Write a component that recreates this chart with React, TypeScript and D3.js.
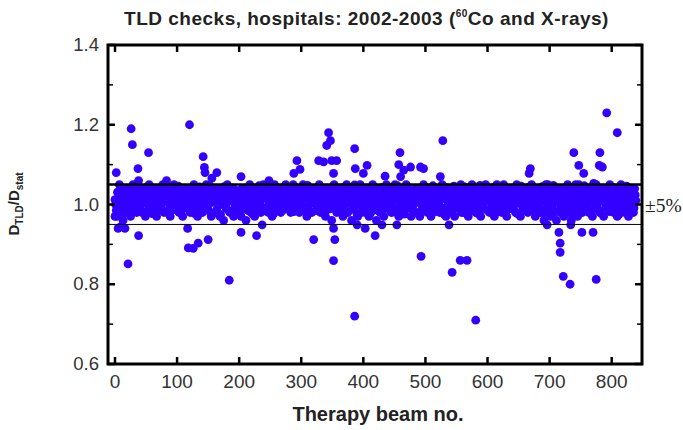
import React from "react";
import * as d3 from "d3";

const W = 683;
const H = 430;

// Dense band, odd beams: 1,3,5,...,839
const bandOdd: number[] = [
  1.00,0.97,1.03,1.05,0.99,1.02,0.96,1.01,1.04,0.98,1.00,1.03,0.97,1.02,1.05,0.99,1.01,0.98,1.04,1.00,
  1.02,0.98,1.04,1.01,0.97,1.03,1.00,1.05,0.99,1.02,0.98,1.04,1.01,0.97,1.03,1.00,1.02,0.99,1.05,0.98,
  1.01,1.04,0.98,1.02,0.97,1.03,1.00,1.05,0.99,1.01,1.04,0.98,1.02,1.00,0.97,1.03,1.01,1.04,0.99,1.02,
  0.98,1.03,1.01,1.05,0.99,1.02,0.97,1.04,1.00,1.02,0.98,1.03,1.01,1.05,0.99,1.00,1.04,0.97,1.02,1.01,
  1.03,0.98,1.01,1.04,0.97,1.02,1.00,0.96,1.03,0.99,1.05,1.01,0.98,1.02,1.04,0.97,1.00,1.03,0.99,1.02,
  1.01,0.97,1.04,0.99,1.02,0.96,1.03,1.00,1.05,0.98,1.02,1.01,0.97,1.04,0.99,1.03,1.00,0.98,1.02,1.05,
  0.99,1.02,1.04,0.98,1.01,1.03,0.97,1.00,1.05,1.02,0.99,1.04,1.01,0.98,1.03,1.00,1.02,1.05,0.99,1.01,
  1.03,0.98,1.02,1.05,1.00,1.04,0.99,1.02,0.98,1.03,1.01,1.05,0.99,1.02,0.97,1.04,1.00,1.03,0.98,1.01,
  1.02,1.04,0.99,1.01,1.05,0.98,1.03,1.00,1.02,0.97,1.04,1.01,0.99,1.03,0.96,1.02,1.05,1.00,0.98,1.03,
  1.01,0.99,1.04,0.97,1.02,1.00,1.05,0.98,1.03,1.01,0.96,1.04,0.99,1.02,1.00,0.97,1.03,1.05,0.98,1.01,
  1.02,0.98,1.04,1.00,0.97,1.03,1.01,1.05,0.99,1.02,0.96,1.04,1.00,0.98,1.03,1.01,0.97,1.02,1.05,0.99,
  1.03,1.00,0.98,1.04,1.01,1.05,0.99,1.02,0.97,1.03,1.00,1.04,0.98,1.02,1.05,0.99,1.01,1.03,0.97,1.02,
  1.00,1.04,0.98,1.02,1.01,0.97,1.03,0.99,1.05,1.02,1.00,0.98,1.04,1.01,0.97,1.03,1.00,1.02,0.99,1.04,
  1.01,0.98,1.03,1.05,0.99,1.02,0.97,1.04,1.00,1.02,0.98,1.03,1.01,0.97,1.04,1.00,1.02,0.99,1.05,1.01,
  0.98,1.03,1.00,1.04,0.97,1.02,1.01,1.05,0.99,1.03,0.98,1.01,1.04,1.00,0.97,1.02,1.03,0.99,1.05,1.01,
  1.02,0.98,1.04,1.00,1.03,0.97,1.01,1.05,0.99,1.02,1.04,0.98,1.01,1.03,1.00,0.97,1.04,1.02,0.99,1.01,
  1.03,1.00,0.98,1.05,1.01,1.02,0.97,1.04,0.99,1.03,1.00,1.02,0.98,1.04,1.01,1.05,0.99,1.02,0.97,1.03,
  1.00,1.04,0.98,1.02,1.01,0.96,1.03,0.99,1.05,1.02,0.97,1.00,1.04,0.98,1.02,0.96,1.03,1.01,0.98,1.04,
  1.01,0.97,1.03,1.00,1.05,0.98,1.02,0.96,1.04,0.99,1.01,1.03,0.97,1.05,1.00,1.02,0.98,1.04,0.99,1.01,
  1.03,0.98,1.01,1.04,0.97,1.02,1.00,1.05,0.99,1.03,0.98,1.01,1.04,0.97,1.02,1.00,1.03,0.99,1.05,1.01,
  1.02,0.98,1.04,1.00,0.97,1.03,1.01,1.05,0.99,1.02,0.98,1.04,1.01,0.97,1.03,1.00,1.02,0.98,1.04,1.01,
];

// Dense band, even beams: 0,2,4,...,838
const bandEven: number[] = [
  1.012,0.985,1.031,1.004,0.992,1.043,1.018,0.979,1.026,1.008,0.996,1.037,1.015,0.988,1.022,1.041,1.002,0.983,1.029,1.011,
  0.994,1.035,1.019,0.981,1.027,1.006,1.044,0.990,1.014,1.033,0.977,1.021,1.003,1.039,0.986,1.024,1.009,0.998,1.036,1.016,
  0.982,1.028,1.042,1.005,0.993,1.019,1.034,0.987,1.011,1.025,0.999,1.046,1.013,0.984,1.030,1.007,0.991,1.038,1.020,1.001,
  1.023,0.989,1.040,1.010,0.978,1.032,1.017,0.995,1.044,1.004,0.986,1.027,1.012,1.036,0.993,1.021,1.048,0.980,1.015,1.029,
  1.006,1.037,0.988,1.024,1.013,0.975,1.031,1.002,1.045,0.997,1.018,1.034,0.983,1.009,1.026,1.041,0.990,1.016,1.003,1.035,
  0.979,1.022,1.038,1.008,0.994,1.029,1.014,0.985,1.043,1.019,1.001,0.976,1.033,1.011,0.989,1.025,1.047,1.005,0.992,1.030,
  1.017,0.984,1.036,1.021,1.003,0.991,1.042,1.013,0.978,1.028,1.009,1.039,0.996,1.024,1.012,0.986,1.034,1.046,1.000,1.019,
  0.990,1.027,1.011,1.044,0.982,1.016,1.032,0.998,1.023,1.040,1.007,0.987,1.035,1.020,0.993,1.048,1.014,0.981,1.026,1.004,
  1.038,1.010,0.985,1.029,1.045,1.002,0.994,1.033,1.018,0.977,1.025,1.041,1.006,0.989,1.031,1.015,1.047,0.996,1.022,1.009,
  0.983,1.036,1.020,0.992,1.043,1.012,0.980,1.027,1.004,1.039,1.016,0.988,1.031,1.049,1.001,0.975,1.023,1.034,1.008,0.995,
  1.028,1.014,0.986,1.041,1.005,1.032,0.979,1.019,1.045,0.997,1.011,1.036,0.984,1.024,1.003,1.042,1.017,0.990,1.030,1.009,
  1.044,0.993,1.021,1.007,0.981,1.035,1.015,1.048,0.988,1.026,1.002,1.039,1.013,0.976,1.029,1.046,1.006,0.995,1.033,1.018,
  0.987,1.024,1.040,1.010,0.978,1.031,1.016,0.998,1.043,1.005,0.984,1.027,1.037,1.012,0.991,1.022,1.047,1.001,0.982,1.034,
  1.019,1.003,0.989,1.038,1.025,0.976,1.014,1.042,1.008,0.993,1.032,1.020,0.985,1.046,1.011,0.997,1.028,1.040,1.004,0.980,
  1.026,1.045,0.992,1.013,1.035,0.983,1.021,1.007,1.041,0.995,1.017,1.030,0.978,1.024,1.048,1.002,0.990,1.037,1.012,1.028,
  0.986,1.018,1.034,1.004,0.997,1.043,1.011,0.981,1.029,1.039,1.006,0.993,1.022,1.047,1.015,0.984,1.033,1.009,1.025,1.000,
  1.041,0.989,1.023,1.013,0.977,1.036,1.018,1.046,0.996,1.008,1.031,0.985,1.027,1.043,1.002,1.016,0.991,1.038,1.020,0.982,
  1.012,1.034,0.994,1.026,1.045,0.979,1.009,1.021,1.040,0.987,1.015,1.032,0.999,1.048,1.006,0.983,1.024,1.037,1.003,0.992,
  1.029,1.008,0.981,1.042,1.016,0.995,1.035,1.011,0.978,1.027,1.044,1.001,0.988,1.023,1.039,1.014,0.986,1.031,1.047,1.005,
  0.997,1.021,1.038,0.984,1.012,1.030,1.045,0.990,1.017,1.004,1.036,0.979,1.025,1.041,1.008,0.993,1.028,1.014,0.982,1.034,
  1.019,1.043,1.002,0.988,1.032,1.011,0.976,1.026,1.040,1.007,0.994,1.022,1.046,1.013,0.985,1.029,1.037,1.003,0.991,1.024,
];

// Individually read points outside / at the edge of the band
const outlierBeams: number[] = [
  2, 26, 28, 54, 37, 38, 83, 120, 142, 144, 145, 164, 156, 203, 248, 293, 298, 288,
  328, 336, 344, 347, 341, 349, 357, 352, 386, 387, 406, 400, 435, 459, 457, 460,
  476, 492, 497, 465, 524, 528, 669, 667, 739, 747, 755, 781, 780, 785, 792, 809,
  771, 626, 694, 742,
  0, 5, 10, 16, 38, 21, 117, 118, 126, 134, 150, 184, 203, 228, 237, 320, 352, 354,
  352, 386, 390, 403, 419, 430, 454, 493, 538, 543, 556, 567, 581, 696, 715, 717,
  717, 722, 733, 734, 752, 770, 775,
];
const outlierRatios: number[] = [
  1.08, 1.19, 1.15, 1.13, 1.09, 1.06, 1.06, 1.20, 1.12, 1.093, 1.08, 1.08, 1.066, 1.07, 1.06, 1.11, 1.088, 1.078,
  1.11, 1.107, 1.18, 1.16, 1.148, 1.11, 1.11, 1.078, 1.14, 1.09, 1.098, 1.078, 1.071, 1.13, 1.10, 1.07,
  1.094, 1.094, 1.09, 1.086, 1.07, 1.16, 1.09, 1.078, 1.13, 1.098, 1.078, 1.13, 1.098, 1.094, 1.23, 1.18,
  1.053, 1.05, 1.05, 1.05,
  0.97, 0.94, 0.945, 0.94, 0.922, 0.851, 0.94, 0.891, 0.89, 0.903, 0.912, 0.81, 0.93, 0.922, 0.949, 0.912, 0.94, 0.912,
  0.859, 0.72, 0.949, 0.94, 0.922, 0.949, 0.949, 0.87, 0.949, 0.83, 0.86, 0.86, 0.71, 0.949, 0.93, 0.903,
  0.88, 0.82, 0.80, 0.949, 0.93, 0.93, 0.812,
];

const xTicks = [0, 100, 200, 300, 400, 500, 600, 700, 800];
const yTicks = [0.6, 0.8, 1.0, 1.2, 1.4];
const yMinor = [0.7, 0.9, 1.1, 1.3];
const limits = [1.05, 0.95];

export default function App() {
  const left = 108, right = 642, top = 45, bottom = 364;
  const x = d3.scaleLinear().domain([0, 800]).range([115, 611.7]);
  const y = d3.scaleLinear().domain([0.6, 1.4]).range([bottom, top]);

  const points: [number, number][] = [];
  bandEven.forEach((v, i) => points.push([i * 2, v]));
  bandOdd.forEach((v, i) => points.push([1 + i * 2, v]));
  outlierBeams.forEach((b, i) => points.push([b, outlierRatios[i]]));

  const color = "#3300ff";
  const sans = "'Liberation Sans', Arial, sans-serif";

  return (
    <svg width={W} height={H} style={{ position: "absolute", left: 0, top: 0, background: "#fff" }}>
      <text x={366.5} y={25} textAnchor="middle" fontFamily={sans} fontWeight="bold" fontSize={19} letterSpacing={0.5} fill="#222">
        TLD checks, hospitals: 2002-2003 (<tspan fontSize={10} dy={-8}>60</tspan>
        <tspan dy={8}>Co and X-rays)</tspan>
      </text>

      <g>
        {points.map((p, i) => (
          <circle key={i} cx={x(p[0])} cy={y(p[1])} r={4.4} fill={color} />
        ))}
      </g>

      {limits.map((v, i) => (
        <line key={i} x1={left} x2={right} y1={y(v)} y2={y(v)} stroke="#000" strokeWidth={i === 0 ? 2.5 : 1} />
      ))}

      <rect x={left} y={top} width={right - left} height={bottom - top} fill="none" stroke="#000" strokeWidth={3} />

      {xTicks.map((t) => (
        <g key={t}>
          <line x1={x(t)} x2={x(t)} y1={bottom} y2={bottom - 7} stroke="#000" strokeWidth={2.5} />
          <line x1={x(t)} x2={x(t)} y1={top} y2={top + 7} stroke="#000" strokeWidth={2.5} />
          <text x={x(t)} y={388} textAnchor="middle" fontFamily={sans} fontSize={19} fill="#333">{t}</text>
        </g>
      ))}
      {yTicks.map((t) => (
        <g key={t}>
          <line x1={left} x2={left + 7} y1={y(t)} y2={y(t)} stroke="#000" strokeWidth={2.5} />
          <line x1={right} x2={right - 7} y1={y(t)} y2={y(t)} stroke="#000" strokeWidth={2.5} />
          <text x={99} y={y(t) + 6} textAnchor="end" fontFamily={sans} fontSize={18.5} fill="#333">{t.toFixed(1)}</text>
        </g>
      ))}
      {yMinor.map((t) => (
        <g key={t}>
          <line x1={left} x2={left + 5} y1={y(t)} y2={y(t)} stroke="#000" strokeWidth={1.5} />
          <line x1={right} x2={right - 5} y1={y(t)} y2={y(t)} stroke="#000" strokeWidth={1.5} />
        </g>
      ))}

      <text x={645} y={212} fontFamily="'Liberation Serif', 'Times New Roman', serif" fontSize={19.5} fill="#222">±5%</text>

      <text x={378} y={421} textAnchor="middle" fontFamily={sans} fontWeight="bold" fontSize={20} fill="#222">Therapy beam no.</text>

      <text transform={`translate(19,204) rotate(-90)`} textAnchor="middle" fontFamily={sans} fontWeight="bold" fontSize={15} fill="#222">
        D<tspan fontSize={10} dy={4}>TLD</tspan><tspan dy={-4}>/D</tspan><tspan fontSize={10} dy={4}>stat</tspan>
      </text>
    </svg>
  );
}
